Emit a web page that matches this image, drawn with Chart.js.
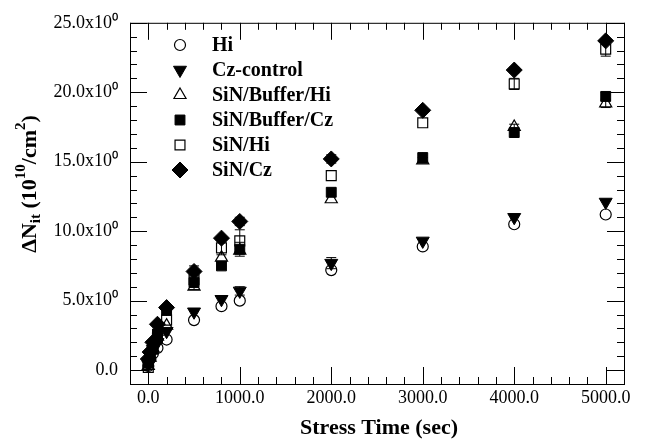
<!DOCTYPE html>
<html>
<head>
<meta charset="utf-8">
<script src="https://cdn.jsdelivr.net/npm/chart.js@4/dist/chart.umd.min.js"></script>
<style>
  html, body { margin: 0; padding: 0; background: #fff; }
  #wrap { width: 648px; height: 443px; }
</style>
</head>
<body>
<div id="wrap"><canvas id="myChart" width="648" height="443"></canvas></div>
<script>
// stress times (sec)
var times = [0, 20, 50, 100, 200, 500, 800, 1000, 2000, 3000, 4000, 5000];

// delta Nit values (1e10/cm2)
var hi        = [0.3, 0.8, 1.2, 1.6, 2.2, 3.6, 4.6, 5.0, 7.2, 8.9, 10.5, 11.2];
var czControl = [0.4, 1.0, 1.5, 2.0, 2.8, 4.2, 5.1, 5.7, 7.7, 9.3, 11.0, 12.1];
var sinBufHi  = [0.3, 0.9, 1.6, 2.4, 3.2, 6.0, 8.1, 8.6, 12.3, 15.1, 17.5, 19.2];
var sinBufCz  = [0.5, 1.0, 1.7, 2.6, 4.3, 6.3, 7.5, 8.7, 12.8, 15.3, 17.1, 19.7];
var sinHi     = [0.2, 1.0, 1.5, 2.3, 3.6, 6.5, 8.8, 9.3, 14.0, 17.8, 20.6, 23.1];
var sinCz     = [0.8, 1.3, 2.0, 3.3, 4.5, 7.1, 9.5, 10.7, 15.2, 18.7, 21.6, 23.7];

// error bar half-heights
var hiErr        = [0, 0, 0, 0, 0, 0, 0, 0, 0, 0, 0, 0];
var czControlErr = [0, 0, 0, 0, 0, 0, 0, 0.3, 0.4, 0, 0, 0];
var sinBufHiErr  = [0, 0, 0, 0, 0, 0, 0, 0, 0, 0.2, 0.2, 0.3];
var sinBufCzErr  = [0, 0, 0, 0, 0, 0, 0, 0.5, 0, 0, 0, 0.3];
var sinHiErr     = [0, 0, 0, 0, 0, 0.7, 0.5, 0.8, 0, 0, 0.4, 0.5];
var sinCzErr     = [0, 0, 0, 0, 0, 0.4, 0, 0.3, 0.3, 0, 0.2, 0];

// tick marks
var xMajor = [0, 1000, 2000, 3000, 4000, 5000];
var yMajor = [0, 5, 10, 15, 20, 25];
var xMin = -200, xMax = 5200, xMinorStep = 200;
var yMin = -1, yMax = 25, yMinorStep = 1;

function pts(vals) {
    return times.map(function (t, i) { return { x: t, y: vals[i] }; });
}

var serif = "'Liberation Serif', 'Times New Roman', serif";
var none = 'rgba(0,0,0,0)';

// inward ticks on all four sides + frame
var frameTicks = {
    id: 'frameTicks',
    afterDraw: function (chart) {
        var c = chart.ctx, a = chart.chartArea, sx = chart.scales.x, sy = chart.scales.y;
        c.save();
        c.strokeStyle = '#000';
        c.lineWidth = 1;
        c.strokeRect(a.left + 0.5, a.top + 0.5, a.right - a.left, a.bottom - a.top);
        c.beginPath();
        for (var v = xMin; v <= xMax + 1e-6; v += xMinorStep) {
            var len = xMajor.indexOf(v) >= 0 ? 17 : 7;
            var px = Math.round(sx.getPixelForValue(v)) + 0.5;
            c.moveTo(px, a.bottom); c.lineTo(px, a.bottom - len);
            c.moveTo(px, a.top); c.lineTo(px, a.top + len);
        }
        for (var w = yMin; w <= yMax + 1e-6; w += yMinorStep) {
            var l2 = yMajor.indexOf(w) >= 0 ? 17 : 7;
            var py = Math.round(sy.getPixelForValue(w)) + 0.5;
            c.moveTo(a.left, py); c.lineTo(a.left + l2, py);
            c.moveTo(a.right, py); c.lineTo(a.right - l2, py);
        }
        c.stroke();
        c.restore();
    }
};

// vertical error bars with caps
var errorBars = {
    id: 'errorBars',
    beforeDatasetsDraw: function (chart) {
        var c = chart.ctx, sx = chart.scales.x, sy = chart.scales.y;
        c.save();
        c.strokeStyle = '#000';
        c.lineWidth = 1;
        chart.data.datasets.forEach(function (ds) {
            if (!ds.errors) return;
            ds.data.forEach(function (p, i) {
                var e = ds.errors[i];
                if (!e) return;
                var x = sx.getPixelForValue(p.x);
                var y1 = sy.getPixelForValue(p.y - e), y2 = sy.getPixelForValue(p.y + e);
                c.beginPath();
                c.moveTo(x, y1); c.lineTo(x, y2);
                c.moveTo(x - 5, y1); c.lineTo(x + 5, y1);
                c.moveTo(x - 5, y2); c.lineTo(x + 5, y2);
                c.stroke();
            });
        });
        c.restore();
    }
};

// legend inside the plot and the axis titles
var labelsPlugin = {
    id: 'labelsPlugin',
    afterDraw: function (chart) {
        var c = chart.ctx, a = chart.chartArea;
        c.save();
        c.fillStyle = '#000';
        c.textBaseline = 'middle';
        c.textAlign = 'left';
        chart.data.datasets.forEach(function (ds, i) {
            var y = 45 + i * 25;
            c.save();
            c.strokeStyle = '#000';
            c.fillStyle = ds.backgroundColor;
            c.lineWidth = ds.borderWidth;
            Chart.helpers.drawPoint(c, {
                pointStyle: ds.pointStyle,
                rotation: ds.rotation || 0,
                radius: ds.pointRadius,
                borderWidth: ds.borderWidth
            }, 180, y);
            c.restore();
            c.font = 'bold 20px ' + serif;
            c.fillText(ds.label, 212, y + 1);
        });

        // x title
        c.textAlign = 'center';
        c.font = 'bold 22px ' + serif;
        c.fillText('Stress Time (sec)', (a.left + a.right) / 2 + 2, 428);

        // y title, rotated, with sub/superscripts
        var parts = [
            ['\u0394N', 22, 0],
            ['it', 15, 6],
            [' (10', 22, 0],
            ['10', 15, -9],
            ['/cm', 22, 0],
            ['2', 15, -9],
            [')', 22, 0]
        ];
        var total = 0;
        parts.forEach(function (p) { c.font = 'bold ' + p[1] + 'px ' + serif; total += c.measureText(p[0]).width; });
        c.translate(30, 184);
        c.rotate(-Math.PI / 2);
        c.textAlign = 'left';
        var xx = -total / 2;
        parts.forEach(function (p) {
            c.font = 'bold ' + p[1] + 'px ' + serif;
            c.fillText(p[0], xx, p[2]);
            xx += c.measureText(p[0]).width;
        });
        c.restore();
    }
};

var ctx = document.getElementById('myChart').getContext('2d');
var chart = new Chart(ctx, {
    type: 'scatter',
    data: {
        datasets: [{
            label: 'Hi',
            data: pts(hi),
            errors: hiErr,
            pointStyle: 'circle',
            pointRadius: 5.5,
            backgroundColor: none,
            borderColor: '#000',
            borderWidth: 1.2
        }, {
            label: 'Cz-control',
            data: pts(czControl),
            errors: czControlErr,
            pointStyle: 'triangle',
            rotation: 180,
            pointRotation: 180,
            pointRadius: 7.5,
            backgroundColor: '#000',
            borderColor: '#000',
            borderWidth: 1
        }, {
            label: 'SiN/Buffer/Hi',
            data: pts(sinBufHi),
            errors: sinBufHiErr,
            pointStyle: 'triangle',
            pointRadius: 7,
            backgroundColor: none,
            borderColor: '#000',
            borderWidth: 1.2
        }, {
            label: 'SiN/Buffer/Cz',
            data: pts(sinBufCz),
            errors: sinBufCzErr,
            pointStyle: 'rect',
            pointRadius: 7,
            backgroundColor: '#000',
            borderColor: '#000',
            borderWidth: 1
        }, {
            label: 'SiN/Hi',
            data: pts(sinHi),
            errors: sinHiErr,
            pointStyle: 'rect',
            pointRadius: 7,
            backgroundColor: none,
            borderColor: '#000',
            borderWidth: 1.2
        }, {
            label: 'SiN/Cz',
            data: pts(sinCz),
            errors: sinCzErr,
            pointStyle: 'rectRot',
            pointRadius: 8,
            backgroundColor: '#000',
            borderColor: '#000',
            borderWidth: 1
        }]
    },
    options: {
        responsive: false,
        animation: false,
        layout: { padding: { top: 14, right: 24, left: 0, bottom: 0 } },
        plugins: {
            legend: { display: false },
            tooltip: { enabled: false }
        },
        elements: { point: { hoverRadius: 0 } },
        scales: {
            x: {
                type: 'linear',
                min: xMin,
                max: xMax,
                afterFit: function (s) { s.height = 59; },
                afterBuildTicks: function (s) { s.ticks = xMajor.map(function (v) { return { value: v }; }); },
                grid: { display: false, drawTicks: false },
                border: { display: false },
                ticks: {
                    padding: 3,
                    maxRotation: 0,
                    autoSkip: false,
                    color: '#000',
                    font: { family: serif, size: 18 },
                    callback: function (v) { return v.toFixed(1); }
                }
            },
            y: {
                type: 'linear',
                min: yMin,
                max: yMax,
                afterFit: function (s) { s.width = 130; },
                afterBuildTicks: function (s) { s.ticks = yMajor.map(function (v) { return { value: v }; }); },
                grid: { display: false, drawTicks: false },
                border: { display: false },
                ticks: {
                    padding: 12,
                    autoSkip: false,
                    color: '#000',
                    font: { family: serif, size: 18 },
                    callback: function (v) { return v === 0 ? '0.0' : v.toFixed(1) + 'x10\u2070'; }
                }
            }
        }
    },
    plugins: [frameTicks, errorBars, labelsPlugin]
});
</script>
</body>
</html>
